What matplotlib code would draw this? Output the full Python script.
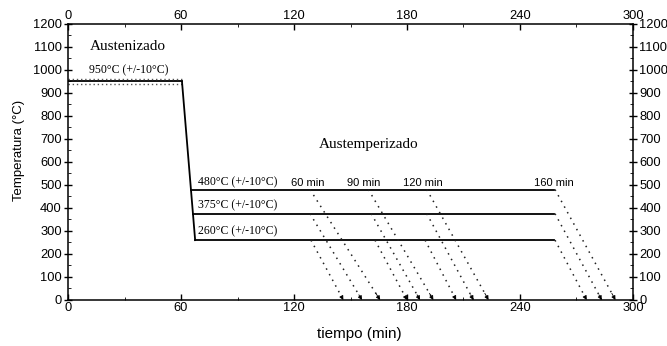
import matplotlib
matplotlib.use("Agg")
import matplotlib.pyplot as plt
from matplotlib.ticker import MultipleLocator

# ---- data ----
aust_temp = 950
aust_tol = 10
aust_end = 60.5
quench_end = 67.5
plateau_temps = [480, 375, 260]
plateau_end = 258
temp_labels = ["480°C (+/-10°C)", "375°C (+/-10°C)", "260°C (+/-10°C)"]
hold_labels = ["60 min", "90 min", "120 min", "160 min"]
hold_label_x = [127.5, 157, 188.5, 258]
# start / end (at 0 °C) of the dotted cooling lines, order: 480, 375, 260
cool_start = [[128.5, 128.5, 129.0],
              [159.5, 161.0, 163.0],
              [190.5, 190.5, 189.6],
              [258.6, 258.6, 258.6]]
cool_end = [[165.7, 156.1, 146.2],
            [194.0, 186.9, 180.0],
            [223.3, 215.3, 206.1],
            [290.7, 283.4, 275.4]]
x_ticks = [0, 60, 120, 180, 240, 300]
y_ticks = [0, 100, 200, 300, 400, 500, 600, 700, 800, 900, 1000, 1100, 1200]

serif = "Liberation Serif"
sans = "Liberation Sans"
plt.rcParams["font.family"] = sans

fig = plt.figure(figsize=(6.67, 3.46), dpi=100)
ax = fig.add_axes([0.102, 0.133, 0.847, 0.798])

# austenitizing
ax.plot([0, aust_end], [aust_temp, aust_temp], color="black", lw=1.3)
for t in (aust_temp + aust_tol, aust_temp - aust_tol):
    ax.plot([0, aust_end], [t, t], color="#555555", lw=1.0, ls=(0, (1, 2)))

# quench
ax.plot([aust_end, quench_end], [aust_temp, plateau_temps[-1]], color="black", lw=1.3)

# plateaus
slope = (aust_temp - plateau_temps[-1]) / (quench_end - aust_end)
for T in plateau_temps:
    xs = aust_end + (aust_temp - T) / slope
    ax.plot([xs, plateau_end], [T, T], color="black", lw=1.3)

# cooling dotted lines with arrow heads
for g in range(len(hold_labels)):
    for i, T in enumerate(plateau_temps):
        x0, x1 = cool_start[g][i], cool_end[g][i]
        ax.plot([x0, x1], [T, 0], color="#222222", lw=1.1, ls=(0, (1, 3.2)))
        f = 0.06
        ax.annotate("", xy=(x1, 0), xytext=(x1 - f * (x1 - x0), f * T),
                    arrowprops=dict(arrowstyle="-|>", color="black", lw=0.6,
                                    mutation_scale=6, shrinkA=0, shrinkB=0))

# texts
ax.text(11.5, 1100, "Austenizado", family=serif, fontsize=11, va="center")
ax.text(11, 1000, "950°C (+/-10°C)", family=serif, fontsize=8.5, va="center")
ax.text(159.5, 674, "Austemperizado", family=serif, fontsize=11, va="center", ha="center")
for T, lab, yy in zip(plateau_temps, temp_labels, [510, 413, 297]):
    ax.text(69, yy, lab, family=serif, fontsize=8.5, va="center")
for lab, xx in zip(hold_labels, hold_label_x):
    ax.text(xx, 510, lab, fontsize=8, va="center", ha="center")

ax.set_xlim(0, 300)
ax.set_ylim(0, 1200)
ax.set_xticks(x_ticks)
ax.set_yticks(y_ticks)
ax.xaxis.set_minor_locator(MultipleLocator(30))
ax.yaxis.set_minor_locator(MultipleLocator(50))
ax.tick_params(top=True, labeltop=True, right=True, labelright=True, labelsize=9.3,
               pad=1.5)
ax.tick_params(axis="x", which="major", direction="in", length=4, width=1)
ax.tick_params(axis="x", which="minor", direction="in", length=2.5, top=True)
ax.tick_params(axis="y", which="major", direction="inout", length=6, width=1)
ax.tick_params(axis="y", which="minor", direction="in", length=2.5, right=True)
for s in ax.spines.values():
    s.set_linewidth(1.1)

ax.set_xlabel("tiempo (min)", fontsize=11)
ax.xaxis.set_label_coords(0.515, -0.098)
ax.set_ylabel("Temperatura (°C)", fontsize=9.5)
ax.yaxis.set_label_coords(-0.077, 0.54)

fig.savefig("out.png", dpi=100)
